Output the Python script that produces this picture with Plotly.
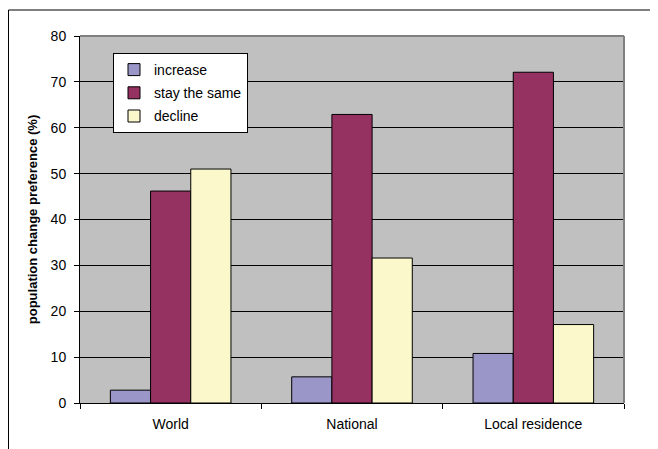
import plotly.graph_objects as go

categories = ["World", "National", "Local residence"]
increase = [2.8, 5.7, 10.8]
stay_same = [46.2, 62.9, 72.1]
decline = [51.0, 31.6, 17.1]
y_ticks = [0, 10, 20, 30, 40, 50, 60, 70, 80]

series = [
    ("increase", increase, "#9A96C8"),
    ("stay the same", stay_same, "#953262"),
    ("decline", decline, "#FBF8CC"),
]

# page has an 8px body margin, so the figure is offset by (8, 8)
OFF = 8
W, H = 658 - OFF, 449 - OFF
L, R, T, B = 80 - OFF, 34, 36 - OFF, 46
pw, ph = W - L - R, H - T - B

fig = go.Figure()
for i, (name, vals, col) in enumerate(series):
    fig.add_trace(go.Bar(
        x=categories, y=vals, name=name, legendgroup=str(i),
        marker=dict(color=col, line=dict(color="black", width=1)),
    ))

font = dict(family="Liberation Sans, Arial, sans-serif", size=14, color="black")

fig.update_layout(
    width=W, height=H,
    margin=dict(l=L, r=R, t=T, b=B),
    paper_bgcolor="white", plot_bgcolor="#C0C0C0",
    barmode="group", bargap=0.335, bargroupgap=0,
    font=font,
    showlegend=True,
    legend=dict(
        x=(113 - 80) / pw, y=1 - (53 - 36) / ph, xanchor="left", yanchor="top",
        bgcolor="white", bordercolor="black", borderwidth=1,
        font=font, tracegroupgap=2, traceorder="grouped",
        itemwidth=30,
    ),
    xaxis=dict(
        showline=True, linecolor="black", linewidth=1,
        ticks="outside", ticklen=5, tickcolor="black", tickson="boundaries",
        showgrid=False, tickfont=font, ticklabelstandoff=8,
    ),
    yaxis=dict(
        range=[0, 80], tickvals=y_ticks, ticktext=[str(v) for v in y_ticks],
        showline=True, linecolor="black", linewidth=1,
        ticks="outside", ticklen=5, tickcolor="black",
        showgrid=True, gridcolor="black", gridwidth=1,
        zeroline=False, tickfont=font, ticklabelstandoff=5,
        title=dict(text="<b>population change preference (%)</b>",
                   font=dict(family="Liberation Sans, Arial, sans-serif", size=13, color="black"),
                   standoff=10),
    ),
)

# gray plot-area border on top and right
fig.add_shape(type="line", xref="paper", yref="paper", x0=0, x1=1, y0=1, y1=1,
              line=dict(color="#808080", width=2), layer="above")
fig.add_shape(type="line", xref="paper", yref="paper", x0=1, x1=1, y0=0, y1=1,
              line=dict(color="#808080", width=2), layer="above")
# outer chart border (left edge of the figure, top at y=10, right at x=657 in the page)
fig.add_shape(type="rect", xref="paper", yref="paper",
              x0=(0.5 - L) / pw, x1=(657 - OFF - L) / pw,
              y0=-(B + 5) / ph, y1=1 + (36 - 10) / ph,
              line=dict(color="black", width=1), layer="above")

fig.write_html("out.html")
